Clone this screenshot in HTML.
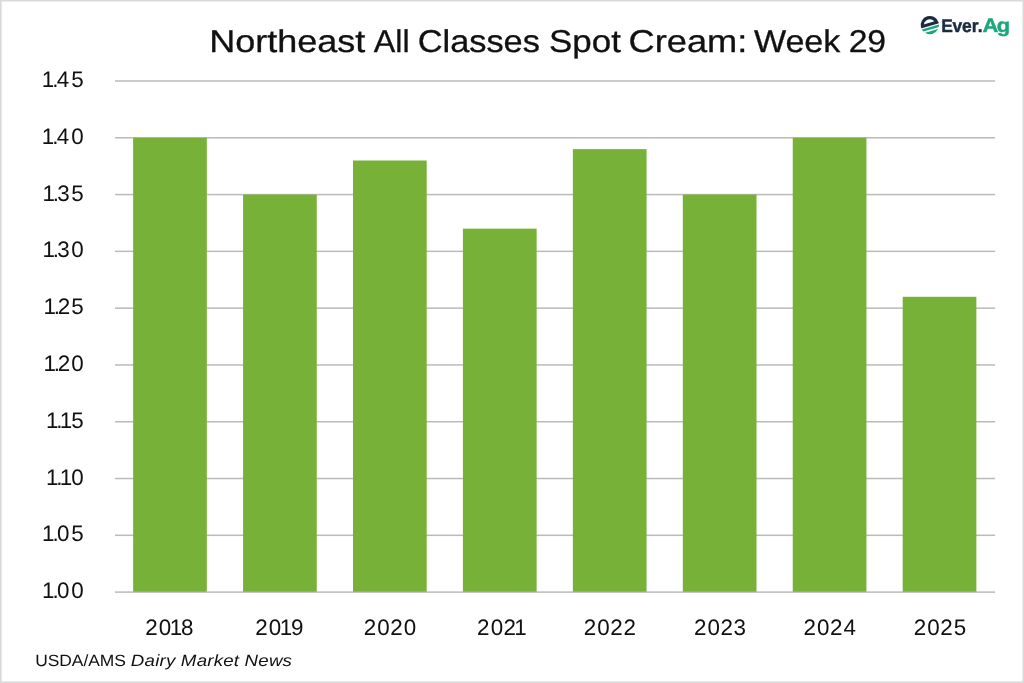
<!DOCTYPE html>
<html lang="en"><head><meta charset="utf-8"><title>Northeast All Classes Spot Cream: Week 29</title>
<style>
html,body{margin:0;padding:0;background:#fff;}
body{width:1024px;height:683px;overflow:hidden;position:relative;font-family:"Liberation Sans",sans-serif;}
svg{position:absolute;left:0;top:0;display:block}
text{font-family:"Liberation Sans",sans-serif;text-rendering:geometricPrecision}
</style></head><body>
<svg width="1024" height="683" viewBox="0 0 1024 683">
<rect x="0" y="0" width="1024" height="683" fill="#fff"/>

<rect x="115.0" y="534.56" width="880.1" height="1.5" fill="#bababa"/>
<rect x="115.0" y="477.77" width="880.1" height="1.5" fill="#bababa"/>
<rect x="115.0" y="420.98" width="880.1" height="1.5" fill="#bababa"/>
<rect x="115.0" y="364.19" width="880.1" height="1.5" fill="#bababa"/>
<rect x="115.0" y="307.40" width="880.1" height="1.5" fill="#bababa"/>
<rect x="115.0" y="250.61" width="880.1" height="1.5" fill="#bababa"/>
<rect x="115.0" y="193.82" width="880.1" height="1.5" fill="#bababa"/>
<rect x="115.0" y="137.03" width="880.1" height="1.5" fill="#bababa"/>
<rect x="115.0" y="80.24" width="880.1" height="1.5" fill="#bababa"/>
<rect x="115.0" y="591.35" width="880.1" height="1.5" fill="#bababa"/>
<rect x="133.12" y="137.78" width="73.70" height="453.97" fill="#78b138"/>
<rect x="243.06" y="194.57" width="73.70" height="397.18" fill="#78b138"/>
<rect x="352.99" y="160.50" width="73.70" height="431.25" fill="#78b138"/>
<rect x="462.93" y="228.64" width="73.70" height="363.11" fill="#78b138"/>
<rect x="572.87" y="149.14" width="73.70" height="442.61" fill="#78b138"/>
<rect x="682.81" y="194.57" width="73.70" height="397.18" fill="#78b138"/>
<rect x="792.74" y="137.78" width="73.70" height="453.97" fill="#78b138"/>
<rect x="902.68" y="296.79" width="73.70" height="294.96" fill="#78b138"/>
<text transform="translate(209.28 51.70) scale(1.1439 1)" font-size="31.5"  stroke="#111" stroke-width="0.3" style="fill:#111" textLength="136.28" lengthAdjust="spacing">Northeast</text>
<text transform="translate(373.75 51.70) scale(1.0249 1)" font-size="31.5"  stroke="#111" stroke-width="0.3" style="fill:#111" textLength="35.03" lengthAdjust="spacing">All</text>
<text transform="translate(417.69 51.70) scale(1.0914 1)" font-size="31.5"  stroke="#111" stroke-width="0.3" style="fill:#111" textLength="112.00" lengthAdjust="spacing">Classes</text>
<text transform="translate(549.12 51.70) scale(1.108 1)" font-size="31.5"  stroke="#111" stroke-width="0.3" style="fill:#111" textLength="64.74" lengthAdjust="spacing">Spot</text>
<text transform="translate(628.54 51.70) scale(1.15 1)" font-size="31.5"  stroke="#111" stroke-width="0.3" style="fill:#111" textLength="103.32" lengthAdjust="spacing">Cream:</text>
<text transform="translate(754.07 51.70) scale(1.0816 1)" font-size="31.5"  stroke="#111" stroke-width="0.3" style="fill:#111" textLength="79.64" lengthAdjust="spacing">Week</text>
<text transform="translate(848.76 51.70) scale(1.0723 1)" font-size="31.5"  stroke="#111" stroke-width="0.3" style="fill:#111" textLength="34.87" lengthAdjust="spacing">29</text>
<text transform="translate(35.27 666.20) scale(1.0689 1)" font-size="16.3"  style="fill:#111" textLength="84.70" lengthAdjust="spacing">USDA/AMS</text>
<text transform="translate(130.86 666.20) scale(1.15 1)" font-size="16.3" font-style="italic" style="fill:#111" textLength="140.09" lengthAdjust="spacing">Dairy Market News</text>
<text x="42.09 52.41 56.92 71.17" y="598.10" font-size="22.4"  style="fill:#111">1.00</text>
<text x="42.09 52.41 56.92 71.27" y="541.31" font-size="22.4"  style="fill:#111">1.05</text>
<text x="45.89 56.21 59.68 71.17" y="484.52" font-size="22.4"  style="fill:#111">1.10</text>
<text x="46.01 56.33 59.80 71.27" y="427.73" font-size="22.4"  style="fill:#111">1.15</text>
<text x="43.38 53.69 57.75 71.17" y="370.94" font-size="22.4"  style="fill:#111">1.20</text>
<text x="43.38 53.69 57.75 71.27" y="314.15" font-size="22.4"  style="fill:#111">1.25</text>
<text x="42.49 52.81 57.14 71.17" y="257.36" font-size="22.4"  style="fill:#111">1.30</text>
<text x="42.49 52.81 57.14 71.27" y="200.57" font-size="22.4"  style="fill:#111">1.35</text>
<text x="41.86 52.18 56.84 71.17" y="143.78" font-size="22.4"  style="fill:#111">1.40</text>
<text x="41.86 52.18 56.84 71.27" y="86.99" font-size="22.4"  style="fill:#111">1.45</text>
<text x="145.29 158.84 169.71 181.10" y="634.80" font-size="22.4"  style="fill:#111">2018</text>
<text x="255.23 268.78 279.66 290.97" y="634.80" font-size="22.4"  style="fill:#111">2019</text>
<text x="363.82 377.37 390.32 403.70" y="634.80" font-size="22.4"  style="fill:#111">2020</text>
<text x="477.12 490.67 503.62 514.24" y="634.80" font-size="22.4"  style="fill:#111">2021</text>
<text x="583.82 597.37 610.32 623.42" y="634.80" font-size="22.4"  style="fill:#111">2022</text>
<text x="693.92 707.47 720.42 733.44" y="634.80" font-size="22.4"  style="fill:#111">2023</text>
<text x="803.52 817.07 830.02 843.49" y="634.80" font-size="22.4"  style="fill:#111">2024</text>
<text x="913.77 927.32 940.27 953.79" y="634.80" font-size="22.4"  style="fill:#111">2025</text>
<text x="990.85 1002.60 1012.71 1023.03 1029.15" y="31.70" font-size="18.3" transform="scale(0.95 1)" font-weight="bold" stroke="#1b2b42" stroke-width="0.45" stroke-linejoin="round" style="fill:#1b2b42">Ever.</text>
<text x="877.13 890.07" y="31.80" font-size="19.6" transform="scale(1.12 1)" font-weight="bold" stroke="#1aa77c" stroke-width="0.4" stroke-linejoin="round" style="fill:#1aa77c">Ag</text>
<defs><clipPath id="lc"><circle cx="0" cy="0" r="9.15"/></clipPath>
<clipPath id="li"><rect x="-12" y="-12" width="24" height="9.75"/></clipPath></defs>
<g transform="translate(929.8 25.1) rotate(-16)">
<g clip-path="url(#lc)">
<rect x="-12" y="-12" width="24" height="12.7" fill="#1b2b42"/>
<g clip-path="url(#li)"><circle cx="0" cy="0" r="5.9" fill="#fff"/></g>
<rect x="-12" y="1.9" width="24" height="2.4" fill="#1aa77c"/>
<rect x="-12" y="6.0" width="24" height="12" fill="#1aa77c"/>
</g></g>
<rect x="0" y="0" width="1024" height="1.5" fill="#d9d9d9"/><rect x="0" y="0" width="1.6" height="683" fill="#d9d9d9"/><rect x="1022.5" y="0" width="1.5" height="683" fill="#d9d9d9"/><rect x="0" y="681.45" width="1024" height="1.55" fill="#d9d9d9"/>
</svg></body></html>
